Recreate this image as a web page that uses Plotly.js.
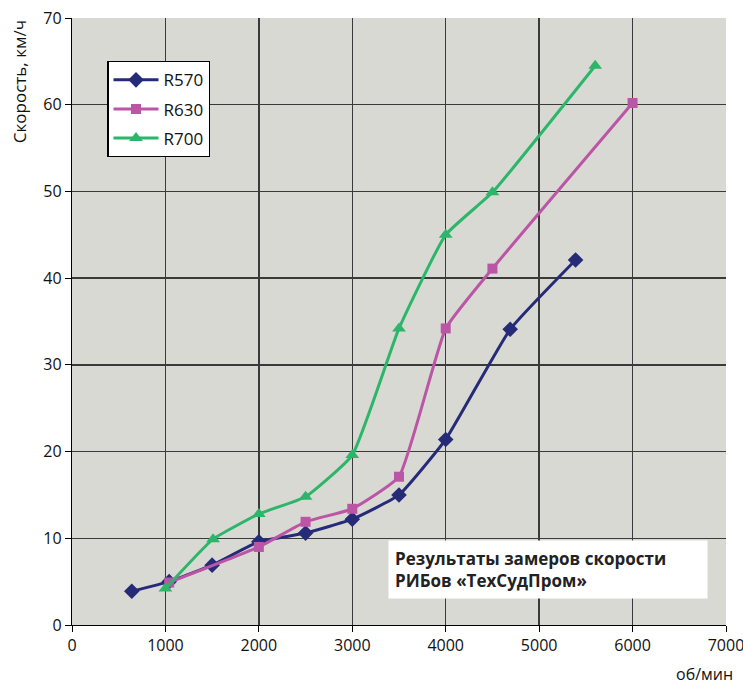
<!DOCTYPE html>
<html><head><meta charset="utf-8">
<script src="https://cdn.plot.ly/plotly-3.0.1.min.js"></script>
<style>body{margin:0;background:#fff}#c{width:743px;height:686px}</style>
</head><body><div id="c"></div>
<script>
const r570x = [640, 1040, 1500, 2000, 2500, 3000, 3500, 4000, 4690, 5390];
const r570y = [3.9, 5.0, 6.9, 9.6, 10.6, 12.2, 15.0, 21.4, 34.1, 42.1];
const r630x = [1040, 2000, 2500, 3000, 3500, 4000, 4500, 6000];
const r630y = [4.9, 9.0, 11.9, 13.4, 17.1, 34.2, 41.1, 60.2];
const r700x = [1000, 1510, 2000, 2500, 3000, 3500, 4000, 4500, 5600];
const r700y = [4.2, 9.9, 12.8, 14.8, 19.6, 34.2, 45.0, 49.9, 64.5];
const names = ['R570', 'R630', 'R700'];
const xTicks = [0, 1000, 2000, 3000, 4000, 5000, 6000, 7000];
const yTicks = [0, 10, 20, 30, 40, 50, 60, 70];

const font = "'Open Sans', 'Noto Sans', sans-serif";
const ln = {shape: 'spline', smoothing: 0.4, width: 3};
const traces = [
  {x: r570x, y: r570y, name: names[0], legendgroup: 'a', mode: 'lines+markers',
   line: Object.assign({color: '#262b78'}, ln),
   marker: {symbol: 'diamond', size: 12, color: '#262b78'}},
  {x: r630x, y: r630y, name: names[1], legendgroup: 'b', mode: 'lines+markers',
   line: Object.assign({color: '#bb55a6'}, ln),
   marker: {symbol: 'square', size: 10, color: '#bb55a6'}},
  {x: r700x, y: r700y, name: names[2], legendgroup: 'c', mode: 'lines+markers',
   line: Object.assign({color: '#2db56a'}, ln),
   marker: {symbol: 'triangle-up', size: 12, color: '#2db56a'}}
];
const ax = {
  showline: true, linecolor: '#000', linewidth: 1.2, mirror: false,
  showgrid: true, gridcolor: '#3a3a3a', gridwidth: 1.5,
  zeroline: false, ticks: 'outside', ticklen: 6, tickcolor: '#000',
  ticklabeloverflow: 'allow', automargin: false,
  tickfont: {size: 16, color: '#111', family: font}
};
const layout = {
  width: 743, height: 686,
  margin: {l: 72, r: 17, t: 18, b: 61},
  paper_bgcolor: '#fff', plot_bgcolor: '#d9d9d4',
  font: {family: font},
  xaxis: Object.assign({}, ax, {range: [0, 7000], tickvals: xTicks, ticktext: xTicks.map(String)}),
  yaxis: Object.assign({}, ax, {range: [0, 70], tickvals: yTicks, ticktext: yTicks.map(String)}),
  showlegend: true,
  legend: {x: 0.054, y: 0.929, xanchor: 'left', yanchor: 'top',
    bgcolor: '#fff', bordercolor: '#000', borderwidth: 1.2,
    font: {size: 17, color: '#111', family: font}, tracegroupgap: 4, itemwidth: 45},
  annotations: [
    {text: 'Скорость, км/ч', textangle: -90, xref: 'paper', yref: 'paper',
     x: -0.08, y: 1.0, xanchor: 'center', yanchor: 'top', showarrow: false,
     font: {size: 17, color: '#111', family: font}},
    {text: 'об/мин', xref: 'paper', yref: 'paper', x: 1.012, y: -0.08,
     xanchor: 'right', yanchor: 'middle', showarrow: false, borderpad: 0,
     font: {size: 16, color: '#111', family: font}},
    {text: '<b>Результаты замеров скорости<br>РИБов «ТехСудПром»</b>', xref: 'paper', yref: 'paper',
     x: 0.483, y: 0.140, xanchor: 'left', yanchor: 'top', align: 'left', showarrow: false,
     bgcolor: '#fff', borderpad: 6, width: 306,
     font: {size: 17, color: '#222', family: "'Open Sans', sans-serif"}}
  ]
};
Plotly.newPlot('c', traces, layout, {displayModeBar: false, staticPlot: true});
</script></body></html>
